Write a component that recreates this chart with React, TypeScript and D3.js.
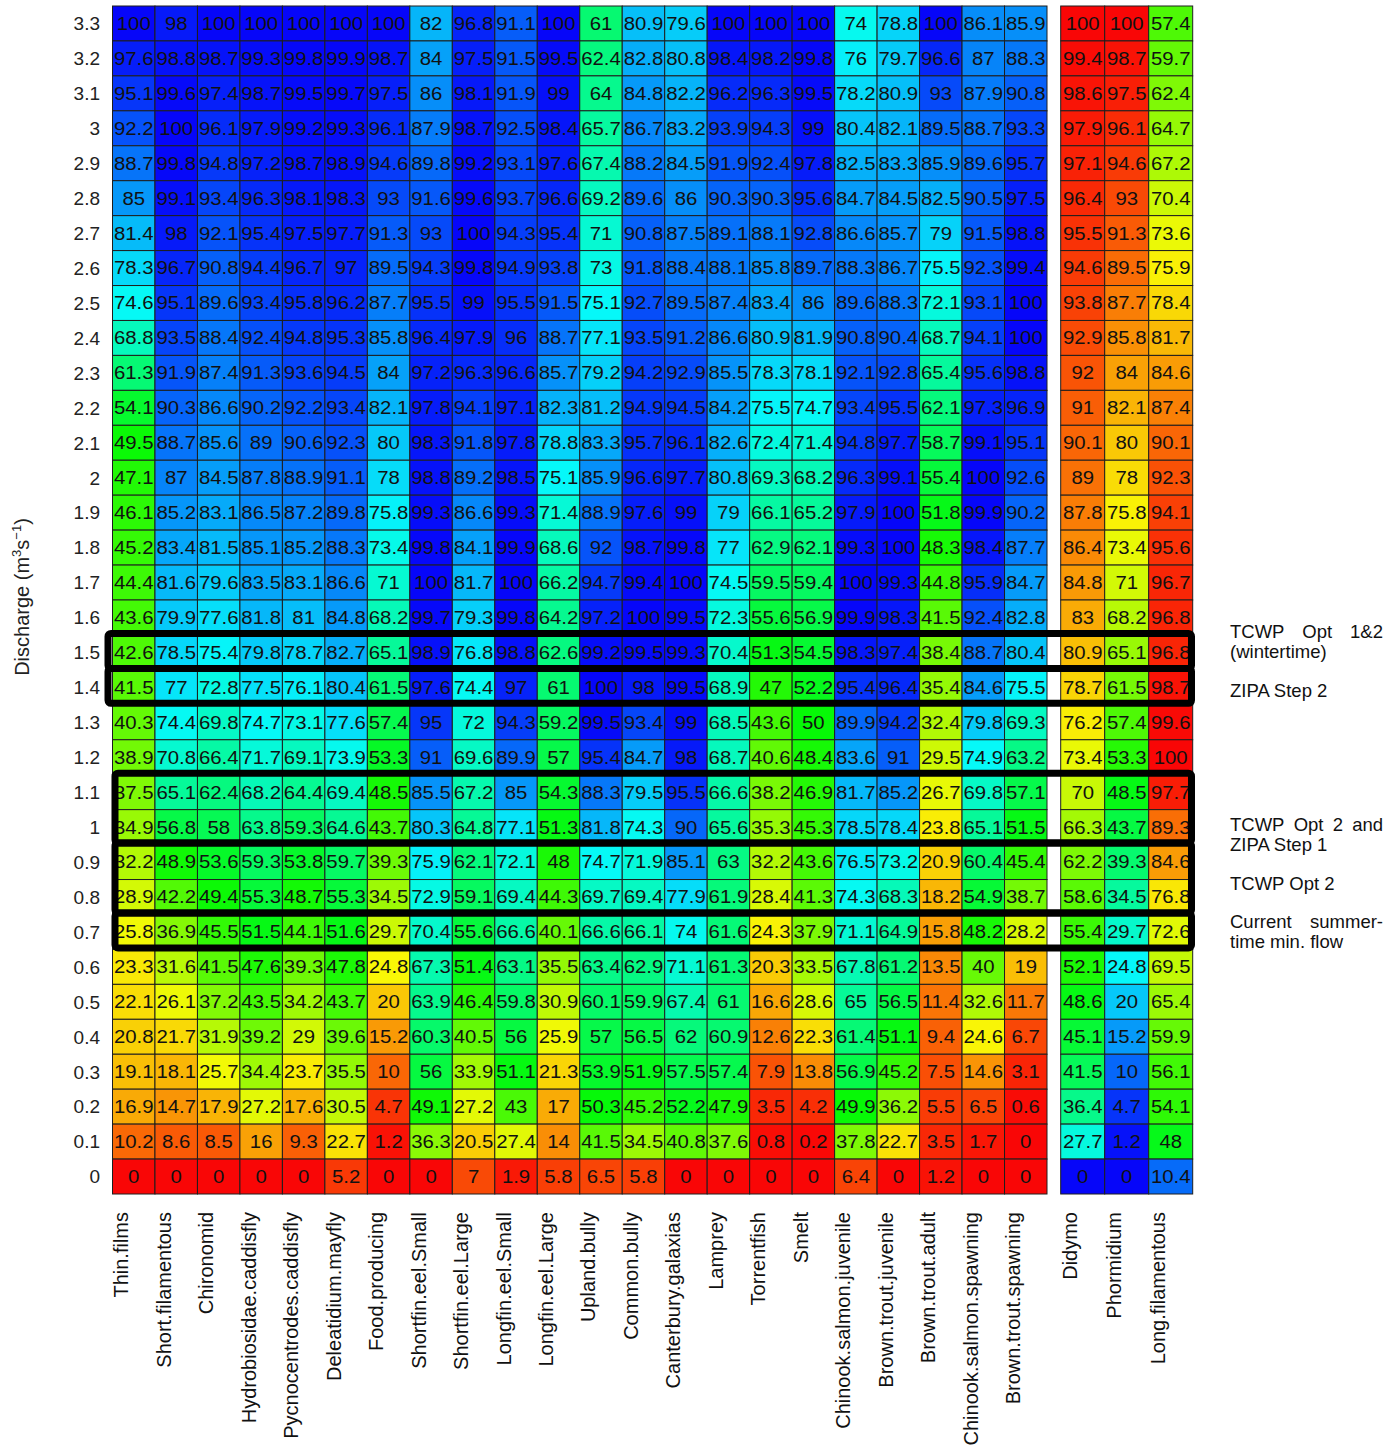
import React, { useEffect, useRef } from 'react';
import * as d3 from 'd3';

// discharge levels, top row first
const discharge = ['3.3', '3.2', '3.1', '3', '2.9', '2.8', '2.7', '2.6', '2.5', '2.4', '2.3', '2.2', '2.1', '2',
  '1.9', '1.8', '1.7', '1.6', '1.5', '1.4', '1.3', '1.2', '1.1', '1', '0.9', '0.8', '0.7', '0.6', '0.5', '0.4',
  '0.3', '0.2', '0.1', '0'];

const habitatNames = ['Thin.films', 'Short.filamentous', 'Chironomid', 'Hydrobiosidae.caddisfly',
  'Pycnocentrodes.caddisfly', 'Deleatidium.mayfly', 'Food.producing', 'Shortfin.eel.Small', 'Shortfin.eel.Large',
  'Longfin.eel.Small', 'Longfin.eel.Large', 'Upland.bully', 'Common.bully', 'Canterbury.galaxias', 'Lamprey',
  'Torrentfish', 'Smelt', 'Chinook.salmon.juvenile', 'Brown.trout.juvenile', 'Brown.trout.adult',
  'Chinook.salmon.spawning', 'Brown.trout.spawning'];

const algaeNames = ['Didymo', 'Phormidium', 'Long.filamentous'];

// % of maximum habitat, one row per discharge level
const habitatValues = [
  [100, 98, 100, 100, 100, 100, 100, 82, 96.8, 91.1, 100, 61, 80.9, 79.6, 100, 100, 100, 74, 78.8, 100, 86.1, 85.9],
  [97.6, 98.8, 98.7, 99.3, 99.8, 99.9, 98.7, 84, 97.5, 91.5, 99.5, 62.4, 82.8, 80.8, 98.4, 98.2, 99.8, 76, 79.7, 96.6, 87, 88.3],
  [95.1, 99.6, 97.4, 98.7, 99.5, 99.7, 97.5, 86, 98.1, 91.9, 99, 64, 84.8, 82.2, 96.2, 96.3, 99.5, 78.2, 80.9, 93, 87.9, 90.8],
  [92.2, 100, 96.1, 97.9, 99.2, 99.3, 96.1, 87.9, 98.7, 92.5, 98.4, 65.7, 86.7, 83.2, 93.9, 94.3, 99, 80.4, 82.1, 89.5, 88.7, 93.3],
  [88.7, 99.8, 94.8, 97.2, 98.7, 98.9, 94.6, 89.8, 99.2, 93.1, 97.6, 67.4, 88.2, 84.5, 91.9, 92.4, 97.8, 82.5, 83.3, 85.9, 89.6, 95.7],
  [85, 99.1, 93.4, 96.3, 98.1, 98.3, 93, 91.6, 99.6, 93.7, 96.6, 69.2, 89.6, 86, 90.3, 90.3, 95.6, 84.7, 84.5, 82.5, 90.5, 97.5],
  [81.4, 98, 92.1, 95.4, 97.5, 97.7, 91.3, 93, 100, 94.3, 95.4, 71, 90.8, 87.5, 89.1, 88.1, 92.8, 86.6, 85.7, 79, 91.5, 98.8],
  [78.3, 96.7, 90.8, 94.4, 96.7, 97, 89.5, 94.3, 99.8, 94.9, 93.8, 73, 91.8, 88.4, 88.1, 85.8, 89.7, 88.3, 86.7, 75.5, 92.3, 99.4],
  [74.6, 95.1, 89.6, 93.4, 95.8, 96.2, 87.7, 95.5, 99, 95.5, 91.5, 75.1, 92.7, 89.5, 87.4, 83.4, 86, 89.6, 88.3, 72.1, 93.1, 100],
  [68.8, 93.5, 88.4, 92.4, 94.8, 95.3, 85.8, 96.4, 97.9, 96, 88.7, 77.1, 93.5, 91.2, 86.6, 80.9, 81.9, 90.8, 90.4, 68.7, 94.1, 100],
  [61.3, 91.9, 87.4, 91.3, 93.6, 94.5, 84, 97.2, 96.3, 96.6, 85.7, 79.2, 94.2, 92.9, 85.5, 78.3, 78.1, 92.1, 92.8, 65.4, 95.6, 98.8],
  [54.1, 90.3, 86.6, 90.2, 92.2, 93.4, 82.1, 97.8, 94.1, 97.1, 82.3, 81.2, 94.9, 94.5, 84.2, 75.5, 74.7, 93.4, 95.5, 62.1, 97.3, 96.9],
  [49.5, 88.7, 85.6, 89, 90.6, 92.3, 80, 98.3, 91.8, 97.8, 78.8, 83.3, 95.7, 96.1, 82.6, 72.4, 71.4, 94.8, 97.7, 58.7, 99.1, 95.1],
  [47.1, 87, 84.5, 87.8, 88.9, 91.1, 78, 98.8, 89.2, 98.5, 75.1, 85.9, 96.6, 97.7, 80.8, 69.3, 68.2, 96.3, 99.1, 55.4, 100, 92.6],
  [46.1, 85.2, 83.1, 86.5, 87.2, 89.8, 75.8, 99.3, 86.6, 99.3, 71.4, 88.9, 97.6, 99, 79, 66.1, 65.2, 97.9, 100, 51.8, 99.9, 90.2],
  [45.2, 83.4, 81.5, 85.1, 85.2, 88.3, 73.4, 99.8, 84.1, 99.9, 68.6, 92, 98.7, 99.8, 77, 62.9, 62.1, 99.3, 100, 48.3, 98.4, 87.7],
  [44.4, 81.6, 79.6, 83.5, 83.1, 86.6, 71, 100, 81.7, 100, 66.2, 94.7, 99.4, 100, 74.5, 59.5, 59.4, 100, 99.3, 44.8, 95.9, 84.7],
  [43.6, 79.9, 77.6, 81.8, 81, 84.8, 68.2, 99.7, 79.3, 99.8, 64.2, 97.2, 100, 99.5, 72.3, 55.6, 56.9, 99.9, 98.3, 41.5, 92.4, 82.8],
  [42.6, 78.5, 75.4, 79.8, 78.7, 82.7, 65.1, 98.9, 76.8, 98.8, 62.6, 99.2, 99.5, 99.3, 70.4, 51.3, 54.5, 98.3, 97.4, 38.4, 88.7, 80.4],
  [41.5, 77, 72.8, 77.5, 76.1, 80.4, 61.5, 97.6, 74.4, 97, 61, 100, 98, 99.5, 68.9, 47, 52.2, 95.4, 96.4, 35.4, 84.6, 75.5],
  [40.3, 74.4, 69.8, 74.7, 73.1, 77.6, 57.4, 95, 72, 94.3, 59.2, 99.5, 93.4, 99, 68.5, 43.6, 50, 89.9, 94.2, 32.4, 79.8, 69.3],
  [38.9, 70.8, 66.4, 71.7, 69.1, 73.9, 53.3, 91, 69.6, 89.9, 57, 95.4, 84.7, 98, 68.7, 40.6, 48.4, 83.6, 91, 29.5, 74.9, 63.2],
  [37.5, 65.1, 62.4, 68.2, 64.4, 69.4, 48.5, 85.5, 67.2, 85, 54.3, 88.3, 79.5, 95.5, 66.6, 38.2, 46.9, 81.7, 85.2, 26.7, 69.8, 57.1],
  [34.9, 56.8, 58, 63.8, 59.3, 64.6, 43.7, 80.3, 64.8, 77.1, 51.3, 81.8, 74.3, 90, 65.6, 35.3, 45.3, 78.5, 78.4, 23.8, 65.1, 51.5],
  [32.2, 48.9, 53.6, 59.3, 53.8, 59.7, 39.3, 75.9, 62.1, 72.1, 48, 74.7, 71.9, 85.1, 63, 32.2, 43.6, 76.5, 73.2, 20.9, 60.4, 45.4],
  [28.9, 42.2, 49.4, 55.3, 48.7, 55.3, 34.5, 72.9, 59.1, 69.4, 44.3, 69.7, 69.4, 77.9, 61.9, 28.4, 41.3, 74.3, 68.3, 18.2, 54.9, 38.7],
  [25.8, 36.9, 45.5, 51.5, 44.1, 51.6, 29.7, 70.4, 55.6, 66.6, 40.1, 66.6, 66.1, 74, 61.6, 24.3, 37.9, 71.1, 64.9, 15.8, 48.2, 28.2],
  [23.3, 31.6, 41.5, 47.6, 39.3, 47.8, 24.8, 67.3, 51.4, 63.1, 35.5, 63.4, 62.9, 71.1, 61.3, 20.3, 33.5, 67.8, 61.2, 13.5, 40, 19],
  [22.1, 26.1, 37.2, 43.5, 34.2, 43.7, 20, 63.9, 46.4, 59.8, 30.9, 60.1, 59.9, 67.4, 61, 16.6, 28.6, 65, 56.5, 11.4, 32.6, 11.7],
  [20.8, 21.7, 31.9, 39.2, 29, 39.6, 15.2, 60.3, 40.5, 56, 25.9, 57, 56.5, 62, 60.9, 12.6, 22.3, 61.4, 51.1, 9.4, 24.6, 6.7],
  [19.1, 18.1, 25.7, 34.4, 23.7, 35.5, 10, 56, 33.9, 51.1, 21.3, 53.9, 51.9, 57.5, 57.4, 7.9, 13.8, 56.9, 45.2, 7.5, 14.6, 3.1],
  [16.9, 14.7, 17.9, 27.2, 17.6, 30.5, 4.7, 49.1, 27.2, 43, 17, 50.3, 45.2, 52.2, 47.9, 3.5, 4.2, 49.9, 36.2, 5.5, 6.5, 0.6],
  [10.2, 8.6, 8.5, 16, 9.3, 22.7, 1.2, 36.3, 20.5, 27.4, 14, 41.5, 34.5, 40.8, 37.6, 0.8, 0.2, 37.8, 22.7, 3.5, 1.7, 0],
  [0, 0, 0, 0, 0, 5.2, 0, 0, 7, 1.9, 5.8, 6.5, 5.8, 0, 0, 0, 0, 6.4, 0, 1.2, 0, 0],
];

// nuisance algae, same rows (colour scale reversed)
const algaeValues = [
  [100, 100, 57.4], [99.4, 98.7, 59.7], [98.6, 97.5, 62.4], [97.9, 96.1, 64.7], [97.1, 94.6, 67.2],
  [96.4, 93, 70.4], [95.5, 91.3, 73.6], [94.6, 89.5, 75.9], [93.8, 87.7, 78.4], [92.9, 85.8, 81.7],
  [92, 84, 84.6], [91, 82.1, 87.4], [90.1, 80, 90.1], [89, 78, 92.3], [87.8, 75.8, 94.1],
  [86.4, 73.4, 95.6], [84.8, 71, 96.7], [83, 68.2, 96.8], [80.9, 65.1, 96.8], [78.7, 61.5, 98.7],
  [76.2, 57.4, 99.6], [73.4, 53.3, 100], [70, 48.5, 97.7], [66.3, 43.7, 89.3], [62.2, 39.3, 84.6],
  [58.6, 34.5, 76.8], [55.4, 29.7, 72.6], [52.1, 24.8, 69.5], [48.6, 20, 65.4], [45.1, 15.2, 59.9],
  [41.5, 10, 56.1], [36.4, 4.7, 54.1], [27.7, 1.2, 48], [0, 0, 10.4],
];

// flow options boxed on the chart: [top row, bottom row]
const flowBoxes = [['1.5', '1.5'], ['1.4', '1.4'], ['1.1', '1'], ['0.9', '0.8'], ['0.7', '0.7']];

// notes on the right, placed at a discharge value
const noteLines = [
  ['TCWP Opt 1&2', '(wintertime)'],
  ['ZIPA Step 2'],
  ['TCWP Opt 2 and', 'ZIPA Step 1'],
  ['TCWP Opt 2'],
  ['Current summer-', 'time min. flow'],
];
const noteAt = [1.53, 1.39, 0.98, 0.84, 0.7];

const FONT = '"Liberation Sans", Arial, sans-serif';

export default function App() {
  const ref = useRef<SVGSVGElement>(null);

  useEffect(() => {
    const svg = d3.select(ref.current);
    svg.selectAll('*').remove();

    const top = 6;
    const bottom = 1194;

    const y = d3.scaleBand().domain(discharge).range([top, bottom]);
    const yNum = d3.scaleLinear().domain([0, 3.3])
      .range([y('0')! + y.bandwidth() / 2, y('3.3')! + y.bandwidth() / 2]);
    const xHab = d3.scaleBand().domain(habitatNames).range([112.5, 1047]);
    const xAlg = d3.scaleBand().domain(algaeNames).range([1060.7, 1192.7]);

    // blue = 100, red = 0 (hsv-style rainbow)
    const habColor = (v: number) => d3.hsl((240 * v) / 100, 0.95, 0.5).toString();
    const algColor = (v: number) => d3.hsl(240 * (1 - v / 100), 0.95, 0.5).toString();

    const drawGroup = (names: string[], values: number[][], x: d3.ScaleBand<string>, color: (v: number) => string) => {
      const cells: { name: string; row: string; v: number }[] = [];
      values.forEach((row, i) => row.forEach((v, j) => cells.push({ name: names[j], row: discharge[i], v })));

      const g = svg.append('g');
      g.selectAll('rect')
        .data(cells)
        .enter().append('rect')
        .attr('x', (d) => x(d.name)!)
        .attr('y', (d) => y(d.row)!)
        .attr('width', x.bandwidth())
        .attr('height', y.bandwidth())
        .attr('fill', (d) => color(d.v))
        .attr('stroke', '#1e1e1e')
        .attr('stroke-width', 1);

      g.selectAll('text')
        .data(cells)
        .enter().append('text')
        .attr('transform', (d) => `translate(${x(d.name)! + x.bandwidth() / 2},${y(d.row)! + y.bandwidth() / 2 + 6.4}) scale(1.1,1)`)
        .attr('text-anchor', 'middle')
        .attr('font-family', FONT)
        .attr('font-size', 18.5)
        .attr('fill', '#111')
        .text((d) => String(d.v));

      // rotated category labels
      g.selectAll('text.lab')
        .data(names)
        .enter().append('text')
        .attr('class', 'lab')
        .attr('transform', (d) => `translate(${x(d)! + x.bandwidth() / 2 - 5.5},1212) rotate(-90)`)
        .attr('text-anchor', 'end')
        .attr('font-family', FONT)
        .attr('font-size', 20)
        .attr('fill', '#111')
        .text((d) => d);
    };

    drawGroup(habitatNames, habitatValues, xHab, habColor);
    drawGroup(algaeNames, algaeValues, xAlg, algColor);

    // y tick labels
    svg.append('g').selectAll('text')
      .data(discharge)
      .enter().append('text')
      .attr('x', 100)
      .attr('y', (d) => y(d)! + y.bandwidth() / 2 + 6.8)
      .attr('text-anchor', 'end')
      .attr('font-family', FONT)
      .attr('font-size', 19)
      .attr('fill', '#222')
      .text((d) => d);

    // y axis title
    const title = svg.append('text')
      .attr('transform', 'translate(29,597) rotate(-90)')
      .attr('text-anchor', 'middle')
      .attr('font-family', FONT)
      .attr('font-size', 20)
      .attr('fill', '#222');
    title.append('tspan').text('Discharge (m');
    title.append('tspan').attr('dy', -8).attr('font-size', 13).text('3');
    title.append('tspan').attr('dy', 8).text('s');
    title.append('tspan').attr('dy', -8).attr('font-size', 13).text('\u22121');
    title.append('tspan').attr('dy', 8).text(')');

    // flow boxes
    svg.append('g').selectAll('rect')
      .data(flowBoxes)
      .enter().append('rect')
      .attr('x', (d, i) => (i < 2 ? 108 : 115))
      .attr('y', (d) => y(d[0])! - 1.5)
      .attr('width', (d, i) => 1191.5 - (i < 2 ? 108 : 115))
      .attr('height', (d) => y(d[1])! + y.bandwidth() - y(d[0])!)
      .attr('rx', 3)
      .attr('fill', 'none')
      .attr('stroke', '#000')
      .attr('stroke-width', 7);

    // notes, justified like the source text
    const notes = svg.append('g')
      .attr('font-family', FONT)
      .attr('font-size', 18.5)
      .attr('fill', '#111');
    const x0 = 1230;
    const x1 = 1383;
    const lineH = 20;
    noteLines.forEach((lines, k) => {
      const mid = yNum(noteAt[k]);
      const first = mid + 6.5 - ((lines.length - 1) * lineH) / 2;
      lines.forEach((line, li) => {
        const by = first + li * lineH;
        const justify = li < lines.length - 1;
        if (!justify) {
          notes.append('text').attr('x', x0).attr('y', by).text(line);
          return;
        }
        const words = line.split(' ');
        const nodes = words.map((w) => notes.append('text').attr('y', by).text(w));
        const widths = nodes.map((n) => (n.node() as SVGTextElement).getComputedTextLength());
        const gap = (x1 - x0 - d3.sum(widths)) / (words.length - 1);
        let xx = x0;
        nodes.forEach((n, i) => {
          n.attr('x', xx);
          xx += widths[i] + gap;
        });
      });
    });
  }, []);

  return (
    <svg
      ref={ref}
      width={1400}
      height={1448}
      style={{ position: 'absolute', left: 0, top: 0, background: '#fff' }}
    />
  );
}
